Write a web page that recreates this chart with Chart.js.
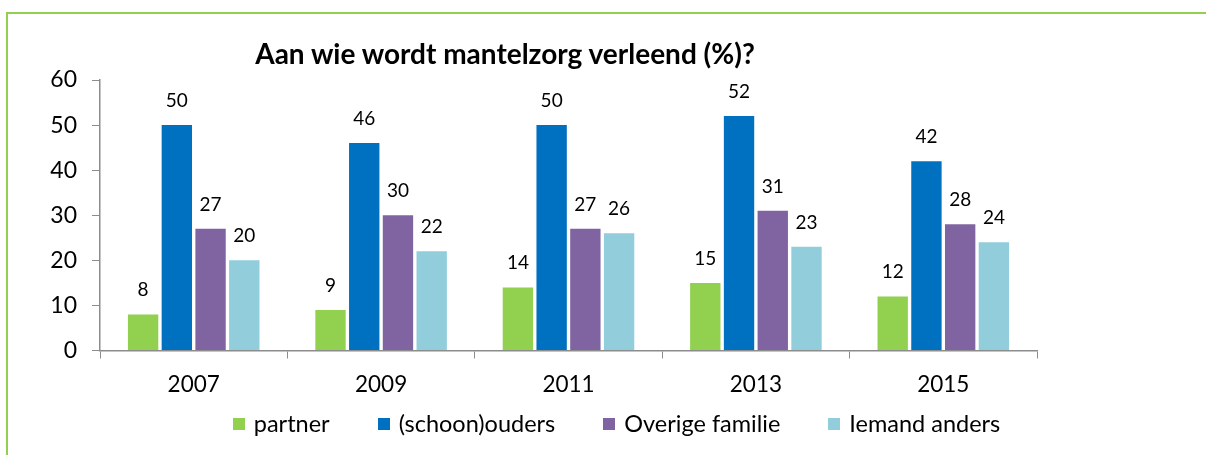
<!DOCTYPE html>
<html>
<head>
<meta charset="utf-8">
<script src="https://cdn.jsdelivr.net/npm/chart.js@4"></script>
<style>
  body { margin: 0; background: #fff; font-family: Lato, "Open Sans", sans-serif; }
  #wrap { position: relative; width: 1206px; height: 455px; overflow: hidden; }
  #frame { position: absolute; left: 6px; top: 12px; width: 1300px; height: 600px;
           border-top: 2px solid #92D050; border-left: 2px solid #92D050; }
  #myBarChart { position: absolute; left: 0; top: 0; }
  #title { position: absolute; left: 0; width: 1010px; top: 37px; text-align: center;
           font-weight: bold; font-size: 28px; line-height: 1.2; white-space: nowrap; color: #000; }
  #legend { position: absolute; left: 0; width: 1233px; top: 409px; text-align: center;
            font-size: 23.5px; line-height: 1.2; white-space: nowrap; color: #000; }
  .legend-item { display: inline-block; margin: 0 24px; }
  .legend-color { display: inline-block; width: 12px; height: 12px; margin-right: 9px; vertical-align: 2px; }
</style>
</head>
<body>
<div id="wrap">
  <div id="frame"></div>
  <canvas id="myBarChart" width="1206" height="455"></canvas>
  <div id="title">Aan wie wordt mantelzorg verleend (%)?</div>
  <div id="legend"></div>
</div>
<script>
var years = ['2007', '2009', '2011', '2013', '2015'];
var seriesNames = ['partner', '(schoon)ouders', 'Overige familie', 'Iemand anders'];
var partner = [8, 9, 14, 15, 12];
var ouders = [50, 46, 50, 52, 42];
var familie = [27, 30, 27, 31, 28];
var anders = [20, 22, 26, 23, 24];
var colors = ['#92D050', '#0070C0', '#8064A2', '#92CDDC'];

var axisColor = '#8c8c8c';
var ctx = document.getElementById('myBarChart').getContext('2d');

// values above every bar
var valueLabels = {
    id: 'valueLabels',
    afterDatasetsDraw: function (chart) {
        var c = chart.ctx;
        c.save();
        c.font = '19px Lato';
        c.fillStyle = '#000';
        c.textAlign = 'center';
        c.textBaseline = 'alphabetic';
        chart.data.datasets.forEach(function (ds, i) {
            chart.getDatasetMeta(i).data.forEach(function (bar, j) {
                c.fillText(String(ds.data[j]), bar.x, bar.y - 18);
            });
        });
        c.restore();
    }
};

var chartData = {
    labels: years,
    datasets: [partner, ouders, familie, anders].map(function (vals, i) {
        return {
            label: seriesNames[i],
            data: vals,
            backgroundColor: colors[i],
            borderWidth: 0,
            barPercentage: 0.9,
            categoryPercentage: 0.72
        };
    })
};

var myBarChart = new Chart(ctx, {
    type: 'bar',
    data: chartData,
    plugins: [valueLabels],
    options: {
        responsive: false,
        animation: false,
        layout: { padding: { left: 0, right: 169, top: 80, bottom: 54.5 } },
        plugins: {
            legend: { display: false },
            title: { display: false },
            tooltip: { enabled: false }
        },
        scales: {
            x: {
                afterFit: function (scale) { scale.height = 50; },
                grid: { drawOnChartArea: false, tickLength: 8, color: axisColor, lineWidth: 1 },
                border: { color: axisColor, width: 1.5 },
                ticks: { color: '#000', font: { family: 'Lato', size: 22.5 }, padding: 13 }
            },
            y: {
                min: 0,
                max: 60,
                afterFit: function (scale) { scale.width = 100; },
                grid: { drawOnChartArea: false, tickLength: 8, color: axisColor, lineWidth: 1 },
                border: { color: axisColor, width: 1.5 },
                ticks: { stepSize: 10, color: '#000', font: { family: 'Lato', size: 23 }, padding: 15 }
            }
        }
    }
});

function updateLegend() {
    var legend = document.getElementById('legend');
    legend.innerHTML = '';
    seriesNames.forEach(function (name, index) {
        var legendItem = document.createElement('span');
        legendItem.classList.add('legend-item');
        var legendColor = document.createElement('span');
        legendColor.classList.add('legend-color');
        legendColor.style.backgroundColor = colors[index];
        var legendText = document.createElement('span');
        legendText.innerText = name;
        legendItem.appendChild(legendColor);
        legendItem.appendChild(legendText);
        legend.appendChild(legendItem);
    });
}

updateLegend();
</script>
</body>
</html>
